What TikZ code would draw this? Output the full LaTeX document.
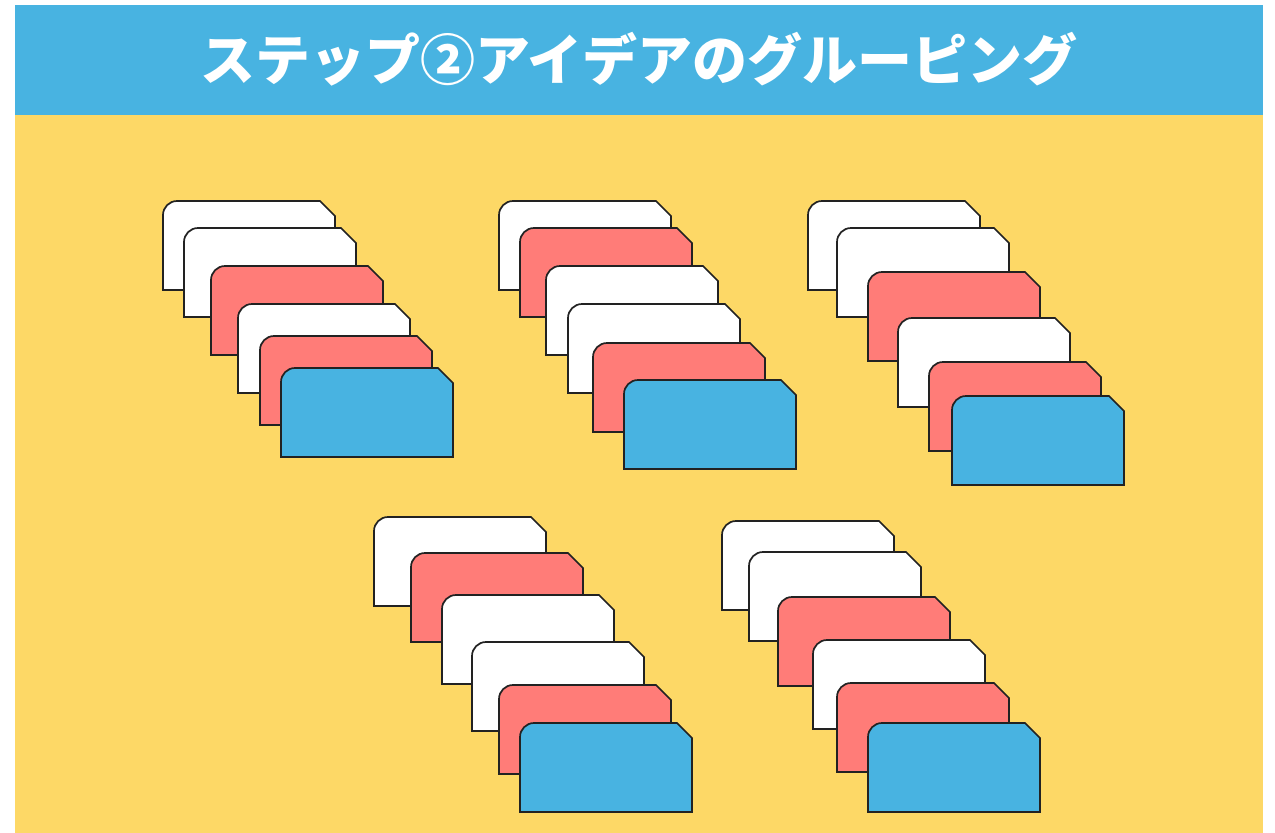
\documentclass[tikz,border=0pt]{standalone}
\usepackage{fontspec}
\newfontfamily\cjk{Noto Sans CJK JP}
\definecolor{bandblue}{HTML}{48B3E1}
\definecolor{bgyellow}{HTML}{FDD866}
\definecolor{cardred}{HTML}{FF7C78}
\definecolor{cardblue}{HTML}{48B3E1}
\definecolor{edge}{HTML}{222222}
\tikzset{
  cardline/.style={draw=edge, line width=1.7pt, line join=miter},
  titletext/.style={text=white, font=\cjk\bfseries\fontsize{55}{60}\selectfont, inner sep=0pt}
}
\newcommand\drawcard[3]{%
  \draw[cardline, fill=#3] (#1,#2+89) -- (#1,#2+14)
    .. controls (#1,#2+6.3) and (#1+6.3,#2) .. (#1+14,#2)
    -- (#1+157,#2) -- (#1+172,#2+15) -- (#1+172,#2+89) -- cycle;}
\begin{document}
\begin{tikzpicture}[x=1pt,y=-1pt]
\useasboundingbox (0,0) rectangle (1275,833);
\fill[white] (0,0) rectangle (1275,833);
\fill[bandblue] (15,5) rectangle (1263,115);
\fill[bgyellow] (15,115) rectangle (1263,833);
\node[titletext] (title) at (639,59) {ステップ②アイデアのグルーピング};
% group 1
\drawcard{163}{201}{white}
\drawcard{184}{228}{white}
\drawcard{211}{266}{cardred}
\drawcard{238}{304}{white}
\drawcard{260}{336}{cardred}
\drawcard{281}{368}{cardblue}
% group 2
\drawcard{499}{201}{white}
\drawcard{520}{228}{cardred}
\drawcard{546}{266}{white}
\drawcard{568}{304}{white}
\drawcard{593}{343}{cardred}
\drawcard{624}{380}{cardblue}
% group 3
\drawcard{808}{201}{white}
\drawcard{837}{228}{white}
\drawcard{868}{272}{cardred}
\drawcard{898}{318}{white}
\drawcard{929}{362}{cardred}
\drawcard{952}{396}{cardblue}
% group 4
\drawcard{374}{517}{white}
\drawcard{411}{553}{cardred}
\drawcard{442}{595}{white}
\drawcard{472}{642}{white}
\drawcard{499}{685}{cardred}
\drawcard{520}{723}{cardblue}
% group 5
\drawcard{722}{521}{white}
\drawcard{749}{552}{white}
\drawcard{778}{597}{cardred}
\drawcard{813}{640}{white}
\drawcard{837}{683}{cardred}
\drawcard{868}{723}{cardblue}
\end{tikzpicture}
\end{document}
